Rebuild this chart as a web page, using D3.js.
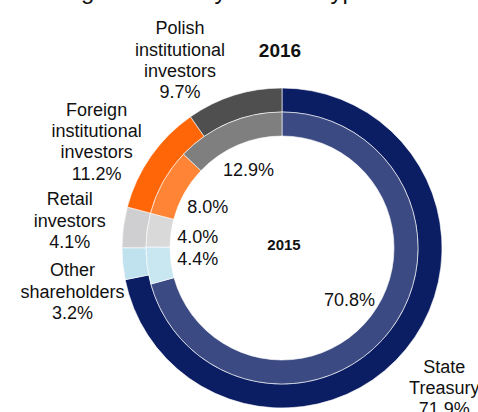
<!DOCTYPE html>
<html>
<head>
<meta charset="utf-8">
<script src="https://cdn.jsdelivr.net/npm/d3@7"></script>
<style>
  html, body { margin: 0; padding: 0; background: #fff; }
  svg { display: block; }
  text { font-family: "Liberation Sans", Arial, sans-serif; fill: #111; }
</style>
</head>
<body>
<svg id="chart" width="478" height="412"></svg>
<script>
// Shareholder groups, clockwise from 12 o'clock
const categories = [
  "State Treasury",
  "Other shareholders",
  "Retail investors",
  "Foreign institutional investors",
  "Polish institutional investors"
];
// Share of equity, %
const values2016 = [71.9, 3.2, 4.1, 11.2, 9.7];
const values2015 = [70.8, 4.4, 4.0, 8.0, 12.9];
const yearLabels = ["2016", "2015"];
const titleText = "Shareholding structure by investor type";

// Ring colours: outer ring (2016) and inner ring (2015)
const outerColors = ["#0b1e63", "#bfe2ee", "#cfcfd1", "#ff6608", "#4f4f4f"];
const innerColors = ["#3b4a82", "#c9e7f0", "#d9d9da", "#ff8436", "#7f7f7f"];
// Angular nudges (degrees) so outer labels clear their neighbours
const labelShift = [1.4, -6, 0, -5, -11];

const W = 478, H = 412;
const cx = 282, cy = 248;
const rOuter = 160, rMid = 136, rInner = 112;
const fmt = v => d3.format(".1f")(v) + "%";

const svg = d3.select("#chart");

// Title (runs off the top edge of the frame)
svg.append("text")
  .attr("x", -47).attr("y", -1)
  .style("font-size", "24px")
  .text(titleText);

const pie = d3.pie().sort(null).value(d => d).startAngle(0).endAngle(2 * Math.PI);
const outerPie = pie(values2016);
const innerPie = pie(values2015);

const arcOuter = d3.arc().innerRadius(rMid).outerRadius(rOuter);
const arcInner = d3.arc().innerRadius(rInner).outerRadius(rMid);

const g = svg.append("g").attr("transform", `translate(${cx},${cy})`);

g.selectAll("path.outer").data(outerPie).join("path")
  .attr("class", "outer")
  .attr("d", arcOuter)
  .attr("fill", (d, i) => outerColors[i])
  .attr("stroke", "#ffffff").attr("stroke-width", 0.6);

g.selectAll("path.inner").data(innerPie).join("path")
  .attr("class", "inner")
  .attr("d", arcInner)
  .attr("fill", (d, i) => innerColors[i])
  .attr("stroke", "#ffffff").attr("stroke-width", 0.6);

// Inner ring values, set just inside the ring
const rInnerLabel = 85;
g.selectAll("text.inner-val").data(innerPie).join("text")
  .attr("class", "inner-val")
  .attr("text-anchor", "middle")
  .attr("x", d => Math.sin((d.startAngle + d.endAngle) / 2) * rInnerLabel)
  .attr("y", d => -Math.cos((d.startAngle + d.endAngle) / 2) * rInnerLabel)
  .attr("dy", "0.35em")
  .style("font-size", "18px")
  .text(d => fmt(d.data));

// Outer ring labels: category words stacked, value beneath
const rLabel = 214, lineH = 21.3, capHalf = 6.5;
outerPie.forEach((d, i) => {
  const a = (d.startAngle + d.endAngle) / 2 + labelShift[i] * Math.PI / 180;
  const lx = Math.sin(a) * rLabel;
  const ly = -Math.cos(a) * rLabel;
  const lines = categories[i].split(" ").concat([fmt(d.data)]);
  const n = lines.length;
  const t = g.append("text")
    .attr("text-anchor", "middle")
    .style("font-size", "18px");
  lines.forEach((ln, k) => {
    t.append("tspan")
      .attr("x", lx)
      .attr("y", ly + (k - (n - 1) / 2) * lineH + capHalf)
      .text(ln);
  });
});

// Year captions
svg.append("text")
  .attr("x", 280).attr("y", 57)
  .attr("text-anchor", "middle")
  .style("font-size", "19px").style("font-weight", "bold")
  .text(yearLabels[0]);
svg.append("text")
  .attr("x", 284).attr("y", 250)
  .attr("text-anchor", "middle")
  .style("font-size", "15px").style("font-weight", "bold")
  .text(yearLabels[1]);
</script>
</body>
</html>
